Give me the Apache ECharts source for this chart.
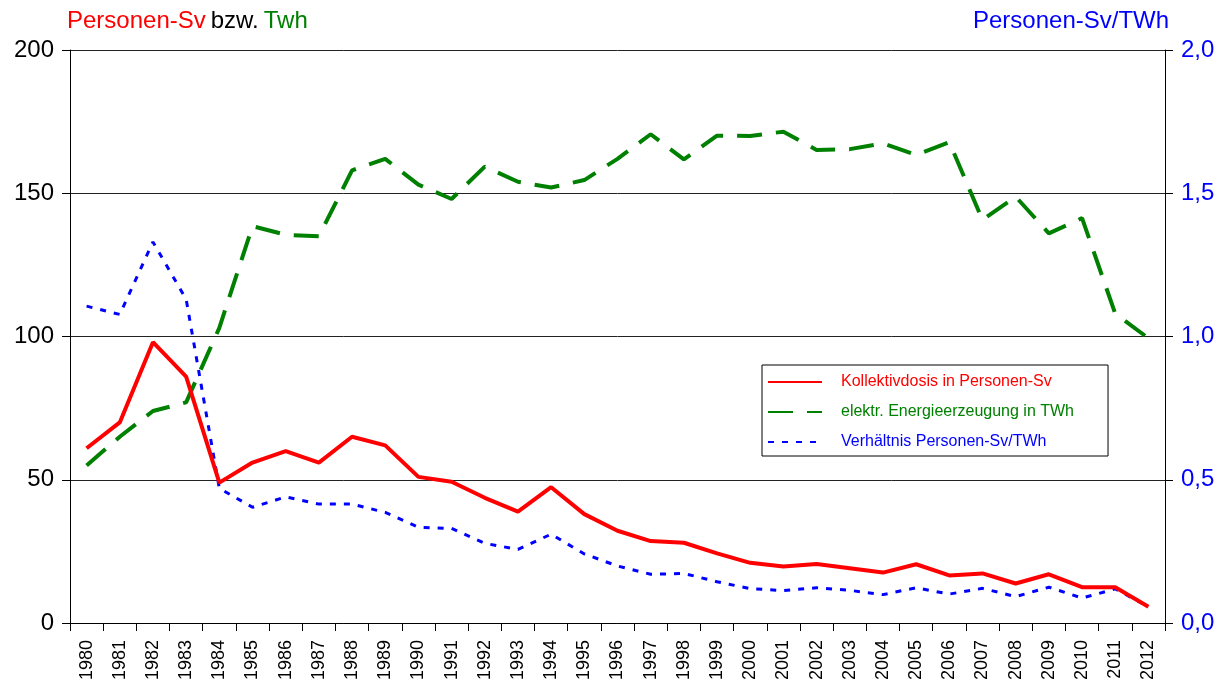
<!DOCTYPE html>
<html>
<head>
<meta charset="utf-8">
<script src="https://cdn.jsdelivr.net/npm/echarts@6/dist/echarts.min.js"></script>
<style>
html, body { margin: 0; padding: 0; background: #fff; }
#chart { width: 1225px; height: 688px; }
</style>
</head>
<body>
<div id="chart"></div>
<script>
var years = ['1980','1981','1982','1983','1984','1985','1986','1987','1988','1989','1990',
    '1991','1992','1993','1994','1995','1996','1997','1998','1999','2000','2001','2002',
    '2003','2004','2005','2006','2007','2008','2009','2010','2011','2012'];
// Kollektivdosis in Personen-Sv
var dosis = [61, 70, 98, 86, 49, 56, 60, 56, 65, 62, 51, 49.3, 43.7, 38.9, 47.4, 38, 32.2,
    28.6, 28, 24.3, 21, 19.7, 20.6, 19.1, 17.6, 20.5, 16.6, 17.3, 13.8, 17, 12.5, 12.5, 5.7];
// elektr. Energieerzeugung in TWh
var energie = [55, 65, 74, 77, 103, 138.5, 135.5, 135, 158, 162, 153, 148, 159.3, 154, 152,
    154.6, 162, 170.6, 161.8, 170.1, 170, 171.5, 165.1, 165.4, 167.4, 163.4, 167.8, 140.7,
    148.8, 136, 141.3, 108, 99.4];
// Verhältnis Personen-Sv/TWh
var verhaeltnis = [1.106, 1.077, 1.33, 1.13, 0.47, 0.404, 0.44, 0.415, 0.415, 0.386, 0.334,
    0.33, 0.278, 0.257, 0.31, 0.241, 0.199, 0.17, 0.173, 0.144, 0.12, 0.113, 0.123, 0.114,
    0.099, 0.123, 0.101, 0.121, 0.092, 0.125, 0.087, 0.119, 0.057];
var leftTicks = [0, 200, 50];
var rightTicks = [0, 2, 0.5];

var font = 'Liberation Sans, Arial, sans-serif';
var chart = echarts.init(document.getElementById('chart'));
var option = {
    animation: false,
    textStyle: { fontFamily: font },
    title: [{
        text: '{r|Personen-Sv} {k|bzw.} {g|Twh}',
        left: 62,
        top: 4,
        textStyle: {
            rich: {
                r: { color: '#ff0000', fontSize: 24, fontFamily: font, fontWeight: 'normal' },
                k: { color: '#000', fontSize: 24, fontFamily: font, fontWeight: 'normal' },
                g: { color: '#008000', fontSize: 24, fontFamily: font, fontWeight: 'normal' }
            }
        }
    }, {
        text: 'Personen-Sv/TWh',
        left: 968,
        top: 4,
        textStyle: { color: '#0000ff', fontSize: 24, fontWeight: 'normal', fontFamily: font }
    }],
    grid: { left: 70, right: 60, top: 50, bottom: 65 },
    legend: {
        orient: 'vertical',
        left: 762,
        top: 365,
        padding: [9, 34, 6, 5],
        itemGap: 14,
        itemWidth: 54,
        itemHeight: 14,
        borderColor: '#000',
        borderWidth: 1,
        itemStyle: { opacity: 0 },
        textStyle: { fontSize: 16, fontFamily: font, padding: [0, 0, 0, 14] },
        data: [
            { name: 'Kollektivdosis in Personen-Sv', textStyle: { color: '#ff0000' } },
            { name: 'elektr. Energieerzeugung in TWh', textStyle: { color: '#008000' } },
            { name: 'Verhältnis Personen-Sv/TWh', textStyle: { color: '#0000ff' } }
        ]
    },
    xAxis: {
        type: 'category',
        data: years,
        boundaryGap: true,
        axisLine: { lineStyle: { color: '#000', width: 1 } },
        axisTick: { show: true, length: 8, lineStyle: { color: '#000' } },
        axisLabel: { rotate: 90, color: '#000', fontSize: 18, margin: 17, interval: 0 }
    },
    yAxis: [{
        type: 'value',
        min: leftTicks[0],
        max: leftTicks[1],
        interval: leftTicks[2],
        axisLine: { show: true, lineStyle: { color: '#000' } },
        axisTick: { show: true, length: 8, lineStyle: { color: '#000' } },
        axisLabel: { color: '#000', fontSize: 24, margin: 16 },
        splitLine: { show: true, lineStyle: { color: '#222', width: 1 } }
    }, {
        type: 'value',
        min: rightTicks[0],
        max: rightTicks[1],
        interval: rightTicks[2],
        position: 'right',
        axisLine: { show: true, lineStyle: { color: '#000' } },
        axisTick: { show: true, length: 8, lineStyle: { color: '#000' } },
        axisLabel: {
            color: '#0000ff', fontSize: 24, margin: 16,
            formatter: function (v) { return v.toFixed(1).replace('.', ','); }
        },
        splitLine: { show: false }
    }],
    series: [{
        name: 'Kollektivdosis in Personen-Sv',
        type: 'line',
        data: dosis,
        yAxisIndex: 0,
        symbol: 'none',
        z: 3,
        lineStyle: { color: '#ff0000', width: 4 },
        itemStyle: { color: '#ff0000' }
    }, {
        name: 'elektr. Energieerzeugung in TWh',
        type: 'line',
        data: energie,
        yAxisIndex: 0,
        symbol: 'none',
        z: 2,
        lineStyle: { color: '#008000', width: 4, type: [25, 14] },
        itemStyle: { color: '#008000' }
    }, {
        name: 'Verhältnis Personen-Sv/TWh',
        type: 'line',
        data: verhaeltnis,
        yAxisIndex: 1,
        symbol: 'none',
        z: 2,
        lineStyle: { color: '#0000ff', width: 3, type: [6, 8] },
        itemStyle: { color: '#0000ff' }
    }]
};
chart.setOption(option);
</script>
</body>
</html>
